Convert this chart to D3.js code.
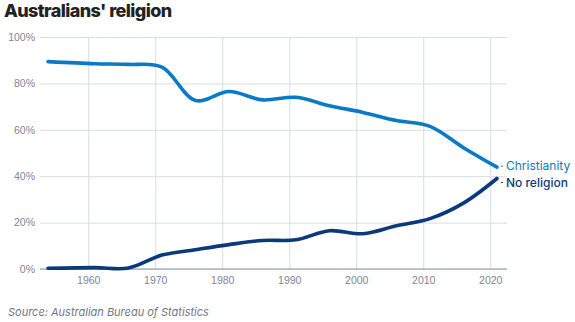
<!DOCTYPE html>
<html>
<head>
<meta charset="utf-8">
<script src="https://cdn.jsdelivr.net/npm/d3@7"></script>
<style>
  body { margin: 0; background: #fff; }
  svg { display: block; font-family: "Inter", "Noto Sans", sans-serif; }
</style>
</head>
<body>
<svg id="chart" width="575" height="322"></svg>
<script>
// Census years and share of population (%) by religious affiliation
const years = [1954, 1961, 1966, 1971, 1976, 1981, 1986, 1991, 1996, 2001, 2006, 2011, 2016, 2021];
const christianity = [89.4, 88.5, 88.2, 87.0, 72.6, 76.5, 72.9, 74.0, 70.4, 67.5, 64.0, 61.5, 52.3, 43.9];
const noReligion = [0.3, 0.6, 0.4, 6.0, 8.3, 10.5, 12.3, 12.6, 16.5, 15.2, 18.6, 21.7, 28.4, 39.0];
const yTicks = [0, 20, 40, 60, 80, 100];
const xTicks = [1960, 1970, 1980, 1990, 2000, 2010, 2020];
const seriesNames = ["Christianity", "No religion"];
const seriesColors = ["#0a7ac6", "#0b3a7c"];

const svg = d3.select("#chart");
const margin = { left: 40, right: 68, top: 37, bottom: 53 };
const width = 575, height = 322;

const x = d3.scaleLinear().domain([1952.8, 2022.5]).range([margin.left, width - margin.right]);
const y = d3.scaleLinear().domain([0, 100]).range([height - margin.bottom, margin.top]);

// Title
svg.append("text")
  .attr("x", 4).attr("y", 17)
  .attr("font-size", 18).attr("font-weight", 800)
  .attr("fill", "#222")
  .attr("letter-spacing", -0.6)
  .text("Australians' religion");

// Horizontal gridlines + y labels
const yAxis = d3.axisLeft(y).tickValues(yTicks).tickFormat(d => d + "%")
  .tickSize(-(x.range()[1] - x.range()[0])).tickPadding(5);
const gy = svg.append("g").attr("transform", `translate(${margin.left},0)`).call(yAxis);
gy.select(".domain").remove();
gy.selectAll(".tick line").attr("stroke", "#d7dce5");
gy.selectAll(".tick text").attr("fill", "#7d8699").attr("font-size", 10.5);

// Vertical gridlines + x labels
const xAxis = d3.axisBottom(x).tickValues(xTicks).tickFormat(d3.format("d"))
  .tickSize(-(y.range()[0] - y.range()[1])).tickPadding(8);
const gx = svg.append("g").attr("transform", `translate(0,${y(0)})`).call(xAxis);
gx.select(".domain").remove();
gx.selectAll(".tick line").attr("stroke", "#d7dce5");
gx.selectAll(".tick text").attr("fill", "#7d8699").attr("font-size", 10.5);

// Baseline
svg.append("line")
  .attr("x1", x.range()[0]).attr("x2", x.range()[1])
  .attr("y1", y(0)).attr("y2", y(0))
  .attr("stroke", "#8b93a5").attr("stroke-width", 1.2);

const line = d3.line()
  .x(d => x(d[0])).y(d => y(d[1]))
  .curve(d3.curveCatmullRom.alpha(0.5));

const series = [christianity, noReligion];
series.forEach((vals, i) => {
  const pts = years.map((yr, j) => [yr, vals[j]]);
  svg.append("path")
    .datum(pts)
    .attr("fill", "none")
    .attr("stroke", seriesColors[i])
    .attr("stroke-width", 3.6)
    .attr("stroke-linecap", "round")
    .attr("d", line);
});

// End labels
const labelY = [y(christianity[christianity.length - 1]) - 1, y(noReligion[noReligion.length - 1]) + 4];
series.forEach((vals, i) => {
  const xe = x(years[years.length - 1]);
  svg.append("line")
    .attr("x1", xe + 4).attr("x2", xe + 6)
    .attr("y1", labelY[i]).attr("y2", labelY[i])
    .attr("stroke", seriesColors[i]).attr("stroke-width", 1);
  svg.append("text")
    .attr("x", xe + 9).attr("y", labelY[i])
    .attr("dy", "0.35em")
    .attr("font-size", 12).attr("font-weight", i === 1 ? 500 : 400)
    .attr("fill", seriesColors[i])
    .text(seriesNames[i]);
});

// Source
svg.append("text")
  .attr("x", 8).attr("y", 316)
  .attr("font-size", 11).attr("font-style", "italic")
  .attr("fill", "#6f7787")
  .text("Source: Australian Bureau of Statistics");
</script>
</body>
</html>
